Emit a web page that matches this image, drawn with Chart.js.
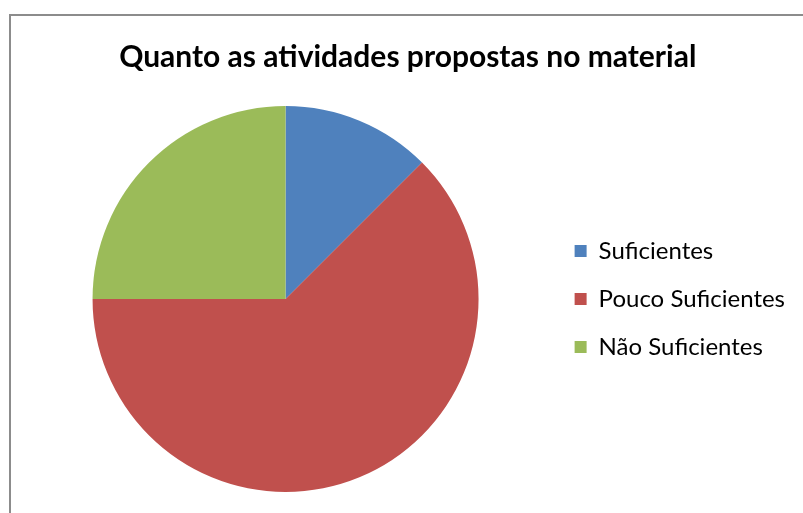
<!DOCTYPE html>
<html>
<head>
<meta charset="utf-8">
<script src="https://cdn.jsdelivr.net/npm/chart.js@4.4.0/dist/chart.umd.min.js"></script>
<style>
  html, body { margin: 0; padding: 0; background: #fff; overflow: hidden; }
  #box {
    position: absolute;
    left: 9px;
    top: 14px;
    width: 800px;
    height: 510px;
    border: 2px solid #8c8c8c;
  }
  #chart { display: block; }
</style>
</head>
<body>
<div id="box">
  <canvas id="chart" width="800" height="510"></canvas>
</div>
<script>
const chartTitle = 'Quanto as atividades propostas no material';
const categories = ['Suficientes', 'Pouco Suficientes', 'Não Suficientes'];
const values = [12.5, 62.5, 25];
const sliceColors = ['#4F81BD', '#C0504D', '#9BBB59'];

const ctx = document.getElementById('chart').getContext('2d');

new Chart(ctx, {
    type: 'pie',
    data: {
        labels: categories,
        datasets: [{
            data: values,
            backgroundColor: sliceColors,
            borderWidth: 0,
            hoverOffset: 0
        }]
    },
    options: {
        responsive: false,
        animation: false,
        layout: {
            padding: { left: 9.5, right: 16, top: 0, bottom: 34 }
        },
        plugins: {
            title: {
                display: true,
                text: chartTitle,
                color: '#000',
                font: { family: 'Lato', size: 30, weight: 'bold' },
                padding: { top: 23, bottom: 31 }
            },
            legend: {
                position: 'right',
                fullSize: false,
                labels: {
                    color: '#000',
                    font: { family: 'Lato', size: 24 },
                    boxWidth: 12,
                    boxHeight: 12,
                    padding: 24
                }
            },
            tooltip: { enabled: false }
        }
    }
});
</script>
</body>
</html>
